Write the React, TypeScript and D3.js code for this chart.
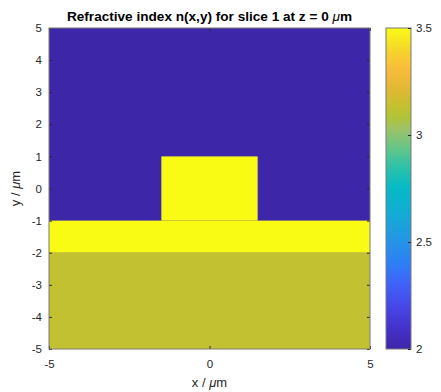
import React, { useRef, useEffect } from 'react';
import * as d3 from 'd3';

// Refractive index layers (drawn in order, later ones on top)
const layerNames = ['cladding', 'substrate', 'slab', 'ridge'];
const layerX0 = [-5, -5, -5, -1.5];
const layerX1 = [5, 5, 5, 1.5];
const layerY0 = [-5, -5, -2, -1];
const layerY1 = [5, -2, -1, 1];
const layerIndex = [2, 3.13, 3.5, 3.5];

const xTicks = [-5, 0, 5];
const yTicks = [-5, -4, -3, -2, -1, 0, 1, 2, 3, 4, 5];
const cbTicks = [2, 2.5, 3, 3.5];

// parula-like colormap stops
const cmapPos = [0, 0.06, 0.13, 0.2, 0.27, 0.35, 0.42, 0.5, 0.57, 0.63, 0.69, 0.72, 0.76, 0.8, 0.87, 0.93, 1];
const cmapCol = ['#3e26a8', '#4430c8', '#4746e6', '#4161f8', '#2e80f6', '#2398e2', '#13abd5', '#06b9c6', '#2fc2a8', '#6ac587', '#a0c264', '#b0c338', '#c6c02f', '#dcb832', '#f9bb3c', '#f5d42c', '#f9fb15'];

const FONT = '"Liberation Sans", Arial, Helvetica, sans-serif';

export default function App() {
  const svgRef = useRef<SVGSVGElement>(null);

  useEffect(() => {
    if (!svgRef.current) return;
    const svg = d3.select(svgRef.current);
    svg.selectAll('*').remove();

    const W = 441, H = 392;
    const plot = { left: 49, right: 370, top: 28, bottom: 349 };
    const cb = { left: 386, right: 411 };

    const x = d3.scaleLinear().domain([-5, 5]).range([plot.left, plot.right]);
    const y = d3.scaleLinear().domain([-5, 5]).range([plot.bottom, plot.top]);
    const nMin = d3.min(layerIndex) as number, nMax = d3.max(layerIndex) as number;
    const t = d3.scaleLinear().domain([nMin, nMax]).range([0, 1]);
    const cmap = d3.scaleLinear<string>().domain(cmapPos).range(cmapCol).interpolate(d3.interpolateRgb);
    const color = (n: number) => cmap(t(n));

    svg.attr('width', W).attr('height', H).style('font-family', FONT);
    svg.append('rect').attr('width', W).attr('height', H).attr('fill', '#fff');

    // image
    svg.append('g').selectAll('rect')
      .data(layerNames.map((name, i) => ({ name, i })))
      .enter().append('rect')
      .attr('x', d => x(layerX0[d.i]))
      .attr('y', d => y(layerY1[d.i]))
      .attr('width', d => x(layerX1[d.i]) - x(layerX0[d.i]))
      .attr('height', d => y(layerY0[d.i]) - y(layerY1[d.i]))
      .attr('fill', d => color(layerIndex[d.i]));

    const axisColor = '#262626';
    const styleAxis = (g: any) => {
      g.select('.domain').remove();
      g.selectAll('.tick line').attr('stroke', axisColor);
      g.selectAll('text').attr('fill', axisColor).style('font-size', '11.5px').style('font-family', FONT);
    };
    const fmt = (d: any) => String(d);

    svg.append('g').attr('transform', `translate(0,${plot.bottom})`)
      .call(d3.axisBottom(x).tickValues(xTicks).tickSize(-3).tickPadding(11).tickFormat(fmt)).call(styleAxis);
    svg.append('g').attr('transform', `translate(0,${plot.top})`)
      .call(d3.axisTop(x).tickValues(xTicks).tickSize(-3).tickFormat(() => '')).call(styleAxis);
    svg.append('g').attr('transform', `translate(${plot.left},0)`)
      .call(d3.axisLeft(y).tickValues(yTicks).tickSize(-3).tickPadding(7).tickFormat(fmt)).call(styleAxis);
    svg.append('g').attr('transform', `translate(${plot.right},0)`)
      .call(d3.axisRight(y).tickValues(yTicks).tickSize(-3).tickFormat(() => '')).call(styleAxis);

    svg.append('rect')
      .attr('x', plot.left).attr('y', plot.top)
      .attr('width', plot.right - plot.left).attr('height', plot.bottom - plot.top)
      .attr('fill', 'none').attr('stroke', '#7a7a7a').attr('stroke-width', 1);

    // colorbar
    const cy = d3.scaleLinear().domain([nMin, nMax]).range([plot.bottom, plot.top]);
    const grad = svg.append('defs').append('linearGradient')
      .attr('id', 'cbgrad').attr('x1', 0).attr('y1', 1).attr('x2', 0).attr('y2', 0);
    d3.range(0, 65).forEach(k => {
      grad.append('stop').attr('offset', k / 64).attr('stop-color', cmap(k / 64));
    });
    svg.append('rect')
      .attr('x', cb.left).attr('y', plot.top)
      .attr('width', cb.right - cb.left).attr('height', plot.bottom - plot.top)
      .attr('fill', 'url(#cbgrad)').attr('stroke', '#7a7a7a').attr('stroke-width', 1);
    svg.append('g').attr('transform', `translate(${cb.right},0)`)
      .call(d3.axisLeft(cy).tickValues(cbTicks).tickSize(3).tickFormat(() => '')).call(styleAxis);
    svg.append('g').attr('transform', `translate(${cb.right},0)`)
      .call(d3.axisRight(cy).tickValues(cbTicks).tickSize(0).tickPadding(5).tickFormat(fmt)).call(styleAxis);

    // title & labels
    const title = svg.append('text')
      .attr('x', (plot.left + plot.right) / 2).attr('y', 21)
      .attr('text-anchor', 'middle').attr('fill', '#000')
      .style('font-size', '13.6px').style('font-weight', 'bold');
    title.append('tspan').text('Refractive index n(x,y) for slice 1 at z = 0 ');
    title.append('tspan').style('font-style', 'italic').style('font-weight', 'normal').text('μ');
    title.append('tspan').text('m');

    const xl = svg.append('text')
      .attr('x', (plot.left + plot.right) / 2).attr('y', 387)
      .attr('text-anchor', 'middle').attr('fill', axisColor).style('font-size', '13px');
    xl.append('tspan').text('x / ');
    xl.append('tspan').style('font-style', 'italic').text('μ');
    xl.append('tspan').text('m');

    const yl = svg.append('text')
      .attr('transform', `translate(20,${(plot.top + plot.bottom) / 2}) rotate(-90)`)
      .attr('text-anchor', 'middle').attr('fill', axisColor).style('font-size', '13px');
    yl.append('tspan').text('y / ');
    yl.append('tspan').style('font-style', 'italic').text('μ');
    yl.append('tspan').text('m');
  }, []);

  return (
    <div style={{ position: 'absolute', left: 0, top: 0 }}>
      <svg ref={svgRef} style={{ display: 'block' }}></svg>
    </div>
  );
}
